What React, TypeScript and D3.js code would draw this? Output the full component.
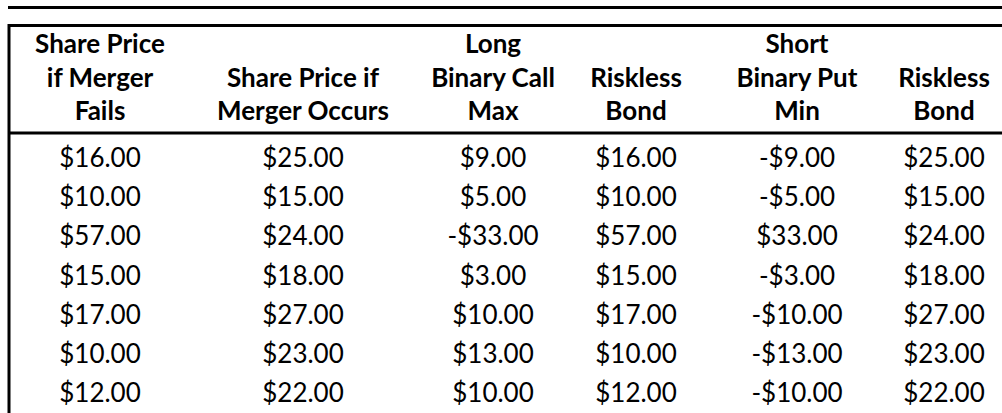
import React from "react";
import * as d3 from "d3";

// table data, one array per column
const failPrice = [16, 10, 57, 15, 17, 10, 12];
const occurPrice = [25, 15, 24, 18, 27, 23, 22];
const longCall = [9, 5, -33, 3, 10, 13, 10];
const bondFail = [16, 10, 57, 15, 17, 10, 12];
const shortPut = [-9, -5, 33, -3, -10, -13, -10];
const bondOccur = [25, 15, 24, 18, 27, 23, 22];

const headers = [
  ["Share Price", "if Merger", "Fails"],
  ["", "Share Price if", "Merger Occurs"],
  ["Long", "Binary Call", "Max"],
  ["", "Riskless", "Bond"],
  ["Short", "Binary Put", "Min"],
  ["", "Riskless", "Bond"],
];

const columns = [failPrice, occurPrice, longCall, bondFail, shortPut, bondOccur];

const W = 1002;
const H = 413;
const colWidths = [184, 222, 158, 128, 194, 100];
const left = 8;
const font = "Lato, 'Open Sans', sans-serif";

const money = d3
  .formatLocale({ decimal: ".", thousands: ",", grouping: [3], currency: ["$", ""], minus: "-" })
  .format("$.2f");

export default function App() {
  // column centres from widths
  const edges = d3.cumsum([left, ...colWidths]);
  const centers = colWidths.map((w, i) => edges[i] + w / 2);

  const headY = d3.scaleLinear().domain([0, 2]).range([53, 120]);
  const rowY = d3.scaleLinear().domain([0, failPrice.length - 1]).range([167, 402]);

  return (
    <svg
      width={W}
      height={H}
      style={{ position: "absolute", left: 0, top: 0, background: "#fff" }}
      fontFamily={font}
    >
      <rect width={W} height={H} fill="#fff" />
      {/* rules */}
      <line x1={8} x2={W} y1={7.5} y2={7.5} stroke="#000" strokeWidth={3} />
      <line x1={8} x2={W} y1={25.5} y2={25.5} stroke="#000" strokeWidth={3} />
      <line x1={8} x2={W} y1={133} y2={133} stroke="#000" strokeWidth={3} />
      <line x1={9} x2={9} y1={24} y2={H} stroke="#000" strokeWidth={3} />

      {headers.map((lines, ci) =>
        lines.map((t, li) => (
          <text
            key={`h${ci}-${li}`}
            x={centers[ci]}
            y={headY(li)}
            textAnchor="middle"
            fontWeight="bold"
            fontSize={26}
            fill="#000"
          >
            {t}
          </text>
        ))
      )}

      {columns.map((col, ci) =>
        col.map((v, ri) => (
          <text
            key={`c${ci}-${ri}`}
            x={centers[ci]}
            y={rowY(ri)}
            textAnchor="middle"
            fontSize={26}
            fill="#000"
          >
            {money(v)}
          </text>
        ))
      )}
    </svg>
  );
}
